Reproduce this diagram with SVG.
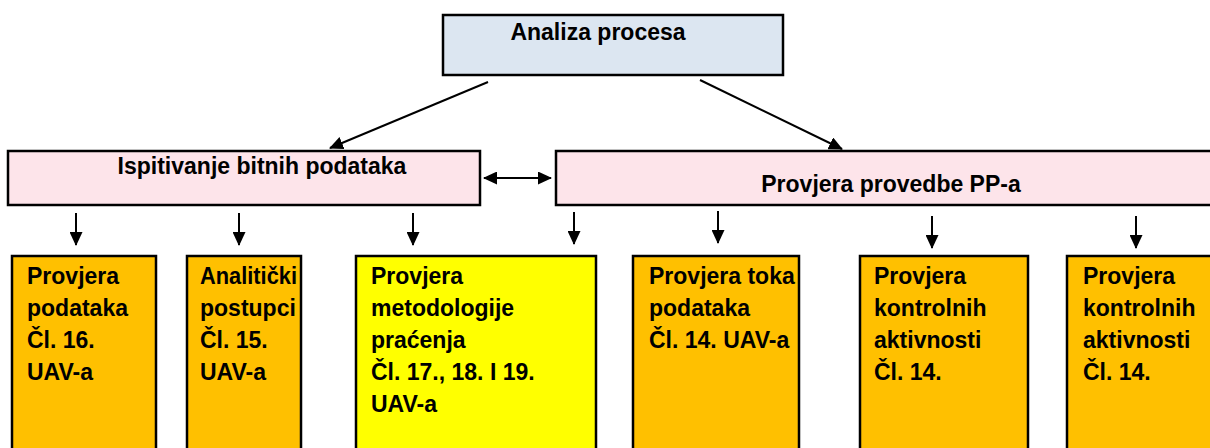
<svg xmlns="http://www.w3.org/2000/svg" width="1210" height="448" viewBox="0 0 1210 448">
<defs>
<marker id="ah" markerWidth="14" markerHeight="13" refX="13" refY="6.5" orient="auto-start-reverse" markerUnits="userSpaceOnUse">
<path d="M0,0 L14,6.5 L0,13 Z" fill="#000"/>
</marker>
<style>
.box{stroke:#000;stroke-width:2.5}
.top{fill:#dce6f1}
.pink{fill:#fde4ea}
.org{fill:#ffc000}
.yel{fill:#ffff00}
text{font-family:"Liberation Sans",Arial,sans-serif;font-weight:bold;font-size:23px;fill:#000}
.c{stroke:#000;stroke-width:2;fill:none;marker-end:url(#ah)}
</style>
</defs>
<rect width="1210" height="448" fill="#fff"/>
<g id="analiza">
<rect class="box top" x="443" y="15" width="340" height="60"/>
<text x="598" y="40" text-anchor="middle">Analiza procesa</text>
</g>
<g id="ispitivanje">
<rect class="box pink" x="8" y="151" width="472" height="54"/>
<text x="262" y="174" text-anchor="middle">Ispitivanje bitnih podataka</text>
</g>
<g id="provedba">
<rect class="box pink" x="556" y="151" width="664" height="54"/>
<text x="891" y="192" text-anchor="middle">Provjera provedbe PP-a</text>
</g>
<g id="b1">
<rect class="box org" x="12" y="256" width="144" height="200"/>
<text x="27" y="284">Provjera</text>
<text x="27" y="316">podataka</text>
<text x="27" y="348">Čl. 16.</text>
<text x="27" y="380">UAV-a</text>
</g>
<g id="b2">
<rect class="box org" x="187" y="256" width="114" height="200"/>
<text x="200" y="284" textLength="97" lengthAdjust="spacingAndGlyphs">Analitički</text>
<text x="200" y="316">postupci</text>
<text x="200" y="348">Čl. 15.</text>
<text x="200" y="380">UAV-a</text>
</g>
<g id="b3">
<rect class="box yel" x="356" y="256" width="240" height="200"/>
<text x="371" y="284">Provjera</text>
<text x="371" y="316">metodologije</text>
<text x="371" y="348">praćenja</text>
<text x="371" y="380">Čl. 17., 18. I 19.</text>
<text x="371" y="412">UAV-a</text>
</g>
<g id="b4">
<rect class="box org" x="633" y="256" width="166" height="200"/>
<text x="649" y="284">Provjera toka</text>
<text x="649" y="316">podataka</text>
<text x="649" y="348">Čl. 14. UAV-a</text>
</g>
<g id="b5">
<rect class="box org" x="860" y="256" width="168" height="200"/>
<text x="874" y="284">Provjera</text>
<text x="874" y="316">kontrolnih</text>
<text x="874" y="348">aktivnosti</text>
<text x="874" y="380">Čl. 14.</text>
</g>
<g id="b6">
<rect class="box org" x="1067" y="256" width="160" height="200"/>
<text x="1083" y="284">Provjera</text>
<text x="1083" y="316">kontrolnih</text>
<text x="1083" y="348">aktivnosti</text>
<text x="1083" y="380">Čl. 14.</text>
</g>
<g id="connectors">
<line class="c" x1="488" y1="82" x2="330" y2="148"/>
<line class="c" x1="700" y1="80" x2="842" y2="149"/>
<line class="c" x1="484" y1="178" x2="551" y2="178" marker-start="url(#ah)"/>
<line class="c" x1="76" y1="213" x2="76" y2="245"/>
<line class="c" x1="239" y1="213" x2="239" y2="245"/>
<line class="c" x1="413" y1="213" x2="413" y2="245"/>
<line class="c" x1="574" y1="212" x2="574" y2="244"/>
<line class="c" x1="718" y1="211" x2="718" y2="243"/>
<line class="c" x1="932" y1="216" x2="932" y2="248"/>
<line class="c" x1="1136" y1="216" x2="1136" y2="248"/>
</g>
</svg>
